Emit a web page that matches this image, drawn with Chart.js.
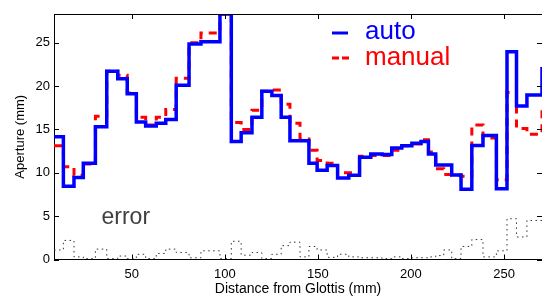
<!DOCTYPE html>
<html><head><meta charset="utf-8">
<script src="https://cdn.jsdelivr.net/npm/chart.js@4.4.0/dist/chart.umd.min.js"></script>
<style>html,body{margin:0;padding:0;background:#fff;overflow:hidden}canvas{display:block}</style>
</head><body>
<canvas id="c" width="542" height="296"></canvas>
<script>
// step start positions (mm); the last entry closes the final step
const distance = [8.3, 13.3, 19.0, 24.0, 30.5, 36.6, 42.5, 47.6, 52.5, 57.5, 63.2, 68.3, 73.9, 80.8, 87.2, 97.4,
  103.5, 108.8, 114.6, 119.9, 125.3, 130.3, 135.0, 140.4, 145.2, 149.6, 155.0, 160.6, 166.6, 172.4, 178.4, 184.5,
  189.7, 195.1, 200.5, 205.4, 209.4, 213.3, 217.6, 221.9, 226.9, 232.7, 238.7, 245.9, 251.6, 256.7, 262.3, 270.4];
const autoValues = [14.15, 8.45, 9.45, 11.1, 15.3, 21.7, 20.85, 19.1, 15.85, 15.4, 15.7, 16.15, 20.1, 24.85, 25.1, 28.3,
  13.6, 14.6, 16.4, 19.4, 18.9, 16.4, 13.7, 13.7, 11.1, 10.3, 10.85, 9.4, 9.7, 11.8, 12.15, 12.1,
  12.85, 13.1, 13.4, 13.6, 12.15, 10.9, 10.9, 9.75, 8.1, 13.15, 14.3, 8.15, 23.95, 17.7, 18.95, 22.2];
const manualValues = [13.1, 10.7, 9.7, 11.0, 16.5, 21.7, 21.25, 19.2, 16.4, 15.5, 16.4, 17.3, 20.9, 25.0, 26.1, 28.3,
  15.8, 15.0, 17.2, 19.4, 19.55, 17.9, 15.7, 13.9, 12.6, 11.4, 11.1, 10.0, 10.0, 11.9, 12.0, 12.0,
  12.6, 13.1, 13.3, 13.8, 12.4, 10.45, 9.8, 9.75, 9.6, 15.5, 14.0, 9.2, 19.25, 15.1, 14.45, 17.6];
const errorValues = [1.1, 2.2, 0.3, 0.1, 1.2, 0.1, 0.4, 0.1, 0.6, 0.1, 0.7, 1.2, 0.8, 0.2, 1.0, 0.1,
  2.1, 0.5, 0.8, 0.1, 0.6, 1.6, 2.0, 0.3, 1.5, 1.1, 0.25, 0.6, 0.3, 0.2, 0.2, 0.1,
  0.3, 0.1, 0.2, 0.2, 0.3, 0.45, 1.1, 0.1, 1.5, 2.3, 0.3, 1.0, 4.7, 2.6, 4.5, 4.5];
const xTicks = [50, 100, 150, 200, 250];
const yTicks = [0, 5, 10, 15, 20, 25];
const seriesNames = ['auto', 'manual', 'error'];
const xTitle = 'Distance from Glottis (mm)';
const yTitle = 'Aperture (mm)';

const FONT = '"Liberation Sans", Arial, Helvetica, sans-serif';
const pts = vals => distance.map((d, i) => ({x: d, y: vals[i]}));

const decor = {
  id: 'decor',
  afterDraw(chart) {
    const {ctx, chartArea: a, scales: {x, y}} = chart;
    ctx.save();
    ctx.strokeStyle = '#000';
    ctx.lineWidth = 1;
    ctx.setLineDash([]);
    ctx.beginPath();
    ctx.moveTo(a.left, a.top + 0.5); ctx.lineTo(a.right, a.top + 0.5);
    const tl = 5;
    x.ticks.forEach(t => {
      const px = Math.round(x.getPixelForValue(t.value)) + 0.5;
      ctx.moveTo(px, a.bottom); ctx.lineTo(px, a.bottom - tl);
      ctx.moveTo(px, a.top); ctx.lineTo(px, a.top + tl);
    });
    y.ticks.forEach(t => {
      const py = Math.round(y.getPixelForValue(t.value)) + 0.5;
      ctx.moveTo(a.left, py); ctx.lineTo(a.left + tl, py);
      ctx.moveTo(a.right, py); ctx.lineTo(a.right - tl, py);
    });
    ctx.stroke();

    // legend
    const lx0 = 332, lx1 = 348, tx = 365;
    ctx.lineWidth = 3;
    ctx.strokeStyle = '#0000ff';
    ctx.beginPath(); ctx.moveTo(lx0, 33); ctx.lineTo(lx1, 33); ctx.stroke();
    ctx.strokeStyle = '#ff0000';
    ctx.setLineDash([7, 3]);
    ctx.beginPath(); ctx.moveTo(lx0, 58); ctx.lineTo(lx1 + 1, 58); ctx.stroke();
    ctx.setLineDash([]);
    ctx.font = '26px ' + FONT;
    ctx.textBaseline = 'alphabetic';
    ctx.textAlign = 'left';
    ctx.fillStyle = '#0000ff';
    ctx.fillText(seriesNames[0], tx, 38.5);
    ctx.fillStyle = '#ff0000';
    ctx.fillText(seriesNames[1], tx, 65);
    ctx.font = '23px ' + FONT;
    ctx.fillStyle = '#404040';
    ctx.fillText(seriesNames[2], 101.5, 223.5);
    ctx.restore();
  }
};

new Chart(document.getElementById('c'), {
  type: 'line',
  data: {
    datasets: [
      {label: seriesNames[0], data: pts(autoValues), borderColor: '#0000ff', borderWidth: 3.5, stepped: 'before', pointRadius: 0, fill: false},
      {label: seriesNames[1], data: pts(manualValues), borderColor: '#ff0000', borderWidth: 3, borderDash: [8, 6], stepped: 'before', pointRadius: 0, fill: false},
      {label: seriesNames[2], data: pts(errorValues), borderColor: '#333333', borderWidth: 1, borderDash: [1.5, 3.5], stepped: 'before', pointRadius: 0, fill: false}
    ]
  },
  options: {
    responsive: false,
    animation: false,
    devicePixelRatio: 1,
    layout: {padding: {top: 14, left: 0, right: 0, bottom: 0}},
    plugins: {legend: {display: false}, tooltip: {enabled: false}},
    elements: {point: {radius: 0}, line: {tension: 0}},
    scales: {
      x: {
        type: 'linear', min: 8.26, max: 270.4,
        afterBuildTicks: s => { s.ticks = xTicks.map(v => ({value: v})); },
        afterFit: s => { s.height = 36.5; },
        grid: {display: false, drawTicks: false},
        border: {display: true, color: '#000', width: 1},
        ticks: {color: '#000', font: {family: FONT, size: 13}, padding: 7, maxRotation: 0, autoSkip: false},
        title: {display: true, text: xTitle, color: '#000', font: {family: FONT, size: 14, lineHeight: 1}, padding: {top: 0, bottom: 0}}
      },
      y: {
        type: 'linear', min: 0, max: 28.3,
        afterBuildTicks: s => { s.ticks = yTicks.map(v => ({value: v})); },
        afterFit: s => { s.width = 54; },
        grid: {display: false, drawTicks: false},
        border: {display: true, color: '#000', width: 1},
        ticks: {color: '#000', font: {family: FONT, size: 13}, padding: 4, autoSkip: false},
        title: {display: true, text: yTitle, color: '#000', font: {family: FONT, size: 13, lineHeight: 1}, padding: {top: 13.5, bottom: 0}}
      }
    }
  },
  plugins: [decor]
});
</script>
</body></html>
